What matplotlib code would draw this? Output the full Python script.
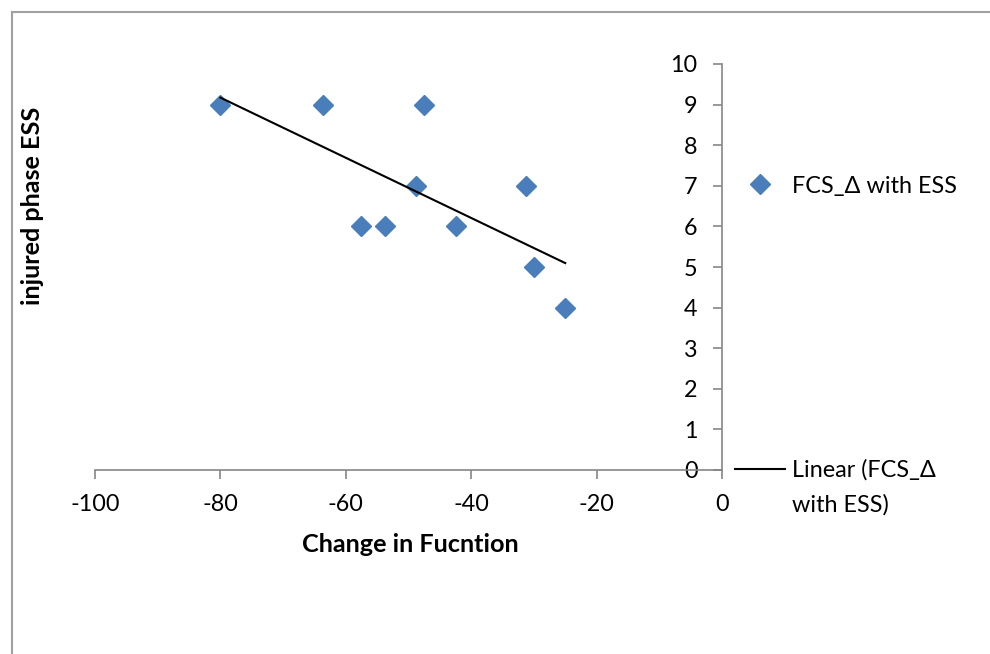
import numpy as np
import matplotlib
matplotlib.use("Agg")
import matplotlib.pyplot as plt
from matplotlib.patches import Rectangle
from matplotlib.lines import Line2D

plt.rcParams['font.family'] = ['Lato', 'DejaVu Sans']
plt.rcParams['axes.unicode_minus'] = False

# Data
change_in_function = [-80.0, -63.7, -47.5, -48.8, -57.5, -53.7, -42.5, -31.2, -30.0, -25.0]
injured_phase_ess = [9, 9, 9, 7, 6, 6, 6, 7, 5, 4]
x_ticks = [-100, -80, -60, -40, -20, 0]
y_ticks = list(range(0, 11))
series_label = "FCS_\u0394 with ESS"
trend_label_lines = ["Linear (FCS_\u0394", "with ESS)"]
x_title = "Change in Fucntion"
y_title = "injured phase ESS"

W, H = 990, 654
FS = 16.8
FS_TITLE = 18.2
blue = '#4A7EBB'
axis_gray = '#868686'

fig = plt.figure(figsize=(W / 100, H / 100), dpi=100)
fig.patch.set_facecolor('white')

# Chart area border
fig.add_artist(Rectangle((12 / W, -0.05), 1.05, 1 - 12 / H + 0.05,
                         transform=fig.transFigure, fill=False,
                         edgecolor='#A0A0A0', linewidth=1.5))

ax = fig.add_axes([95 / W, 1 - 470 / H, (722 - 95) / W, (470 - 64) / H])
ax.set_xlim(-100, 0)
ax.set_ylim(0, 10)
ax.patch.set_alpha(0)

x = np.array(change_in_function)
y = np.array(injured_phase_ess)
ax.plot(x, y, linestyle='none', marker='D', markersize=10.2,
        color=blue, markeredgecolor=blue, clip_on=False, zorder=3)

coef = np.polyfit(x, y, 1)
xt = np.array([x.min(), x.max()])
ax.plot(xt, np.polyval(coef, xt), color='black', linewidth=1.5, zorder=4)

for s in ['top', 'right']:
    ax.spines[s].set_visible(False)
ax.spines['left'].set_position(('data', 0))
ax.spines['bottom'].set_position(('data', 0))
for s in ['left', 'bottom']:
    ax.spines[s].set_color(axis_gray)
    ax.spines[s].set_linewidth(1.2)

ax.set_xticks(x_ticks)
ax.set_yticks(y_ticks)
ax.tick_params(axis='both', direction='out', length=6.5, width=1.2,
               color=axis_gray, labelsize=FS, labelcolor='black')
ax.tick_params(axis='y', pad=11)
ax.tick_params(axis='x', pad=11)

fig.text(410 / W, 1 - 545 / H, x_title, ha='center', va='center',
         fontsize=FS_TITLE, fontweight='bold')
fig.text(33 / W, 1 - 206 / H, y_title, ha='center', va='center',
         rotation=90, fontsize=FS_TITLE, fontweight='bold')

# Legends
hl = 50 / (FS * 100 / 72)
tp = 7 / (FS * 100 / 72)
h1 = Line2D([], [], linestyle='none', marker='D', markersize=10.2,
            color=blue, markeredgecolor=blue)
leg1 = fig.legend(handles=[h1], labels=[series_label], loc='center left',
                  bbox_to_anchor=(735 / W, 1 - 186 / H), frameon=False,
                  fontsize=FS, borderpad=0, borderaxespad=0,
                  handlelength=hl, handletextpad=tp)
h2 = Line2D([], [], color='black', linewidth=1.5)
leg2 = fig.legend(handles=[h2], labels=[trend_label_lines[0]], loc='center left',
                  bbox_to_anchor=(735 / W, 1 - 470 / H), frameon=False,
                  fontsize=FS, borderpad=0, borderaxespad=0,
                  handlelength=hl, handletextpad=tp)
fig.text(792 / W, 1 - 505 / H, trend_label_lines[1], ha='left', va='center',
         fontsize=FS)

fig.savefig('out.png', dpi=100)
